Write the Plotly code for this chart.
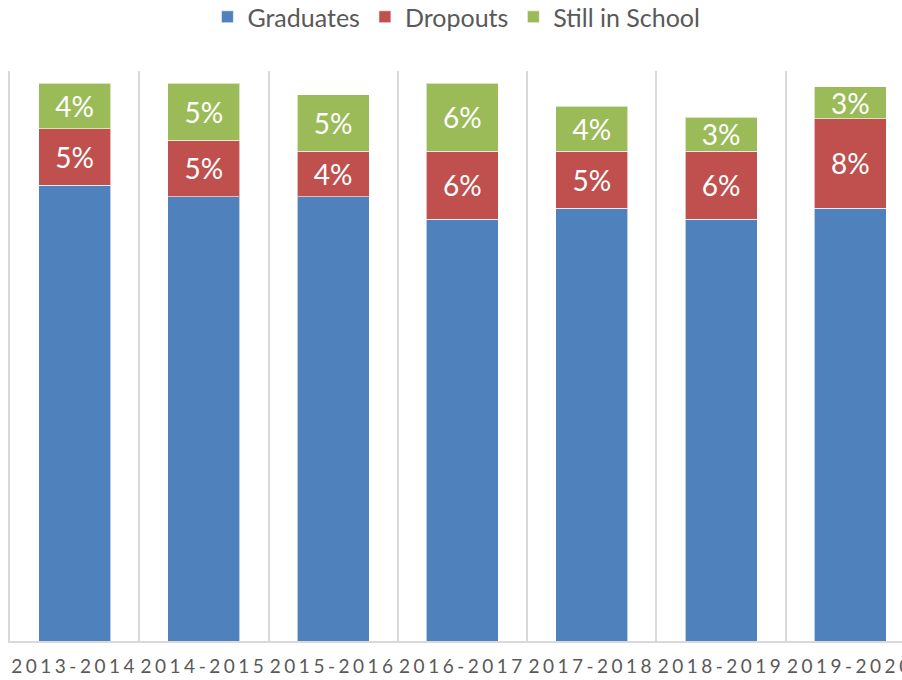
import plotly.graph_objects as go

categories = ["2013-2014", "2014-2015", "2015-2016", "2016-2017", "2017-2018", "2018-2019", "2019-2020"]
graduates = [0.90, 0.89, 0.89, 0.87, 0.88, 0.87, 0.88]
dropouts = [0.05, 0.05, 0.04, 0.06, 0.05, 0.06, 0.079]
still_in_school = [0.04, 0.05, 0.05, 0.06, 0.04, 0.03, 0.028]

series = [
    ("Graduates", graduates, "#4F81BD"),
    ("Dropouts", dropouts, "#C0504D"),
    ("Still in School", still_in_school, "#9BBB59"),
]

FONT = "Lato"
fig = go.Figure()
for name, vals, color in series:
    fig.add_trace(go.Bar(
        name=name, x=categories, y=vals,
        marker=dict(color=color, line=dict(color="rgba(255,255,255,0.6)", width=1)),
        texttemplate="%{y:.0%}", textposition="inside", insidetextanchor="middle",
        textangle=0, constraintext="none",
        textfont=dict(family=FONT, size=28, color="white"),
        hoverinfo="skip",
    ))

fig.update_layout(
    barmode="stack", bargap=0.443,
    width=902, height=680,
    margin=dict(l=10, r=0, t=71, b=39),
    plot_bgcolor="white", paper_bgcolor="white",
    font=dict(family=FONT, color="#595959"),
    legend=dict(orientation="h", xref="container", yref="container",
                x=0.506, xanchor="center", y=0.975, yanchor="middle",
                font=dict(family=FONT, size=25, color="#595959"),
                traceorder="normal"),
    xaxis=dict(type="category", range=[-0.5, 6.4], tickson="boundaries",
               showgrid=True, gridcolor="#D9D9D9", gridwidth=1.5,
               showline=True, linecolor="#D9D9D9", linewidth=1.5,
               ticks="", ticklabelstandoff=7,
               tickfont=dict(family=FONT, size=19, color="#595959")),
    yaxis=dict(range=[0.498, 1.001], showgrid=False, showticklabels=False,
               zeroline=False, showline=True, linecolor="#D9D9D9", linewidth=1.5),
)

post = """
document.body.style.margin='0';
document.body.style.overflow='hidden';
function ls(){document.querySelectorAll('.xtick text').forEach(function(t){t.style.letterSpacing='3.5px';});}
ls(); setTimeout(ls, 50);
"""
fig.write_html("out.html", post_script=post, config={"displayModeBar": False})
